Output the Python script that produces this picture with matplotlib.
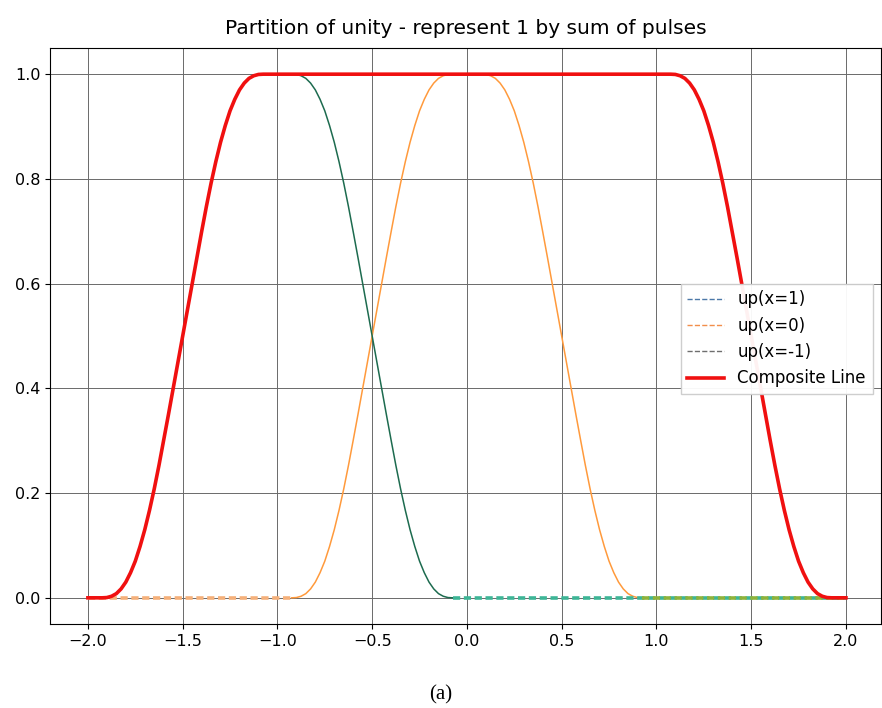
import numpy as np
import matplotlib
matplotlib.use("Agg")
import matplotlib.pyplot as plt

# pulse shape, offsets -1 .. 1 in steps of 0.025
pulse_right = [1.0, 1.0, 1.0, 1.0, 0.9995, 0.997, 0.992, 0.983, 0.970, 0.952,
               0.930, 0.902, 0.870, 0.833, 0.792, 0.747, 0.699, 0.650, 0.600, 0.550,
               0.500, 0.450, 0.400, 0.350, 0.301, 0.253, 0.208, 0.167, 0.130, 0.098,
               0.070, 0.048, 0.030, 0.017, 0.008, 0.003, 0.0005, 0.0, 0.0, 0.0, 0.0]
pulse = pulse_right[::-1] + pulse_right[1:]
step = 0.025
centers = [1, 0, -1]
labels = ["up(x=1)", "up(x=0)", "up(x=-1)"]

x = np.round(np.arange(-2, 2 + step / 2, step), 4)


def shifted(c):
    y = np.zeros(len(x))
    i0 = int(round((c - 1 - x[0]) / step))
    for k, v in enumerate(pulse):
        if 0 <= i0 + k < len(x):
            y[i0 + k] = v
    return y


ups = [shifted(c) for c in centers]
composite = ups[0] + ups[1] + ups[2]

fig = plt.figure(figsize=(8.82, 7.08), dpi=100)
ax = fig.add_axes([50 / 882, 1 - 624 / 708, 831 / 882, 576 / 708])

dash = (2.0, 1.0)

# up(x=1): only the part hidden under the composite line shows in the original
y1 = ups[0]
m = x >= 1
ax.plot(x[m], y1[m], '--', color='#4c78a8', lw=1)

# up(x=0)
y0 = ups[1]
nz = (y0 > 0.0004) | ((x > -0.95) & (x < 0.95))
ax.plot(x[nz], y0[nz], '-', color='#ff9a3c', lw=1.1)
left = x <= x[nz][0]
right = x >= x[nz][-1]
ax.plot(x[left], y0[left], color='#f5b07a', lw=2.6, dashes=dash, zorder=3)

# up(x=-1)
ym = ups[2]
desc = (x >= -1) & (x <= -0.075)
ax.plot(x[desc], ym[desc], '-', color='#1d6b4f', lw=1.1)
tail = x >= -0.075
ax.plot(x[tail], ym[tail], color='#3db596', lw=2.6, dashes=dash, zorder=3)
ax.plot(x[right], y0[right], color='#8fb23a', lw=2.6, dashes=dash, zorder=3)

ax.plot(x, composite, '-', color='#f01010', lw=2.6, zorder=5)

# legend entries
h1, = ax.plot([], [], '--', color='#4c78a8', lw=1, label=labels[0])
h2, = ax.plot([], [], '--', color='#f28e4a', lw=1, label=labels[1])
h3, = ax.plot([], [], '--', color='#6e6e6e', lw=1, label=labels[2])
h4, = ax.plot([], [], '-', color='#f01010', lw=2.6, label="Composite Line")
ax.legend(handles=[h1, h2, h3, h4], loc='center right', fontsize=12,
          framealpha=0.95, edgecolor='#cccccc', fancybox=False,
          bbox_to_anchor=(1.0, 0.495), handlelength=2.2)

ax.set_xlim(-2.2, 2.185)
ax.set_ylim(-0.05, 1.05)
ax.set_xticks([-2.0, -1.5, -1.0, -0.5, 0.0, 0.5, 1.0, 1.5, 2.0])
ax.set_yticks([0.0, 0.2, 0.4, 0.6, 0.8, 1.0])
ax.grid(True, color='#6a6a6a', lw=0.7)
ax.tick_params(labelsize=11.5)
ax.set_title("Partition of unity - represent 1 by sum of pulses", fontsize=14.5, pad=10)
fig.text(0.5, 1 - 695 / 708, "(a)", ha='center', va='center', fontsize=15,
         family=['Liberation Serif', 'DejaVu Serif'])

fig.savefig("out.png", dpi=100)
